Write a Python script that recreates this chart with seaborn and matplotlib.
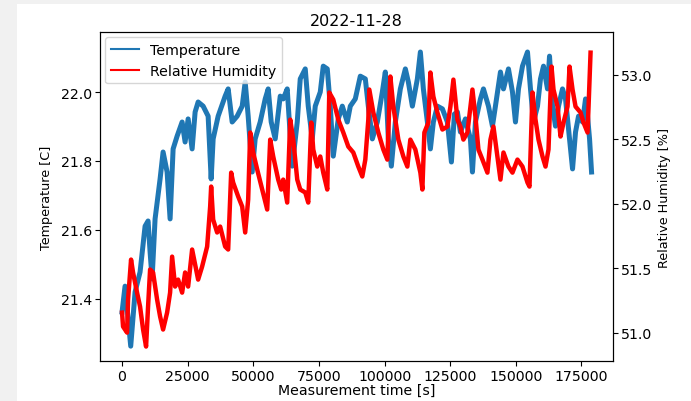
import matplotlib
matplotlib.use("Agg")
import matplotlib.pyplot as plt
from matplotlib.lines import Line2D
from matplotlib.patches import Rectangle
import seaborn as sns
import pandas as pd

title = "2022-11-28"
x_label = "Measurement time [s]"
temp_label = "Temperature [C]"
hum_label = "Relative Humidity [%]"
x_ticks = [0, 25000, 50000, 75000, 100000, 125000, 150000, 175000]
temp_ticks = [21.4, 21.6, 21.8, 22.0]
hum_ticks = [51.0, 51.5, 52.0, 52.5, 53.0]

temp_time = [0, 1140, 3300, 4960, 6860, 8770, 9910, 10680, 11440, 12580, 14490, 15630, 17160, 18300,
             19450, 20970, 22880, 24020, 25170, 26690, 27830, 28980, 30890, 32790, 33940, 34700,
             36600, 39270, 40420, 41940, 43850, 45760, 46900, 48040, 49570, 50710, 52620, 54530,
             55670, 56810, 58340, 60250, 61390, 62910, 64820, 66730, 67870, 69780, 70920, 72450,
             73590, 75500, 76640, 78170, 79310, 80450, 82360, 83890, 85790, 86940, 88840, 90750,
             92660, 93800, 95330, 97230, 99140, 100280, 101430, 102570, 104100, 106000, 107910,
             109050, 110580, 112480, 113630, 114770, 116300, 117440, 118580, 120110, 122020,
             123920, 125450, 126590, 127740, 128880, 130790, 132690, 133460, 134600, 136510,
             137650, 139560, 141080, 142220, 144130, 145280, 147180, 148710, 149850, 151000,
             152520, 154430, 155570, 156720, 158240, 159380, 160530, 162050, 162820, 163960,
             165100, 166250, 167770, 168910, 170060, 171590, 172730, 173870, 175400, 176540,
             177300, 178070, 178830]
temp_vals = [21.362, 21.437, 21.263, 21.42, 21.478, 21.611, 21.626, 21.536, 21.458, 21.632, 21.748,
             21.826, 21.768, 21.632, 21.835, 21.872, 21.913, 21.855, 21.922, 21.835, 21.942, 21.971,
             21.959, 21.93, 21.748, 21.864, 21.93, 21.988, 22.009, 21.913, 21.93, 21.959, 22.029,
             21.93, 21.768, 21.864, 21.913, 21.98, 22.009, 21.913, 21.864, 21.988, 21.98, 22.009,
             21.785, 21.913, 22.038, 22.067, 21.959, 21.864, 21.959, 22.0, 22.075, 22.067, 21.959,
             21.814, 21.922, 21.959, 21.913, 21.959, 21.98, 22.046, 22.038, 21.959, 21.864, 21.913,
             22.0, 22.058, 21.864, 21.785, 21.913, 22.009, 22.067, 22.029, 21.959, 22.038, 22.116,
             22.009, 21.913, 21.835, 21.913, 21.959, 21.951, 21.913, 21.797, 21.936, 21.942,
             21.884, 21.922, 21.864, 21.768, 21.913, 21.98, 22.009, 21.959, 21.901, 21.959, 22.058,
             22.009, 22.067, 22.0, 21.913, 22.009, 22.075, 22.116, 22.009, 21.913, 21.959, 22.038,
             22.075, 22.009, 22.104, 21.959, 21.901, 21.959, 22.009, 21.98, 21.893, 21.777, 21.884,
             21.93, 21.913, 21.98, 21.93, 21.864, 21.768]

hum_time = [0, 380, 1910, 2290, 3430, 4190, 5720, 6860, 8010, 9150, 9910, 10680, 11820, 13350,
            14490, 15630, 17160, 18300, 19070, 20210, 21350, 22880, 24020, 25170, 26690, 27830,
            28980, 30500, 32410, 33560, 33940, 34700, 36220, 37370, 39270, 40420, 41560, 42320,
            44230, 45760, 46900, 48040, 48810, 49950, 51480, 53380, 55290, 56430, 57580, 59480,
            60630, 61390, 62910, 64060, 65200, 66730, 67870, 69780, 70920, 72070, 72830, 74350,
            75500, 76640, 78170, 78930, 80450, 82360, 84270, 86170, 88080, 89990, 91510, 92660,
            93800, 94180, 95710, 97610, 99520, 101040, 102190, 103330, 105240, 107150, 108670,
            109810, 111720, 113630, 114390, 115150, 116680, 117440, 118580, 120110, 122020,
            123920, 125070, 126210, 127740, 128880, 130020, 131550, 133460, 134600, 135740,
            137270, 139170, 140320, 141460, 142990, 144130, 145280, 147180, 148710, 150610,
            152520, 154430, 155190, 156330, 157480, 158620, 160150, 161290, 162430, 163580,
            164340, 165870, 167010, 168150, 169680, 170440, 171590, 172730, 174640, 175780,
            177300, 177690, 178450]
hum_vals = [51.155, 51.047, 51.0, 51.256, 51.566, 51.466, 51.31, 51.202, 51.024, 50.892, 51.202,
            51.489, 51.466, 51.256, 51.125, 51.024, 51.155, 51.31, 51.589, 51.357, 51.411, 51.31,
            51.466, 51.357, 51.644, 51.528, 51.411, 51.512, 51.667, 51.977, 52.132, 51.876,
            51.776, 51.822, 51.667, 51.644, 52.24, 52.163, 52.055, 51.977, 51.776, 52.031,
            52.551, 52.396, 52.264, 52.109, 51.954, 52.496, 52.365, 52.186, 52.109, 52.186,
            52.008, 52.651, 52.496, 52.186, 52.109, 52.086, 52.008, 52.628, 52.419, 52.287,
            52.365, 52.24, 52.109, 52.861, 52.806, 52.651, 52.551, 52.442, 52.396, 52.287, 52.21,
            52.341, 52.651, 52.884, 52.706, 52.551, 52.419, 52.341, 52.985, 52.752, 52.496,
            52.365, 52.287, 52.496, 52.419, 52.24, 52.109, 52.551, 52.628, 53.016, 52.83, 52.706,
            52.574, 52.597, 52.752, 52.961, 52.651, 52.597, 52.496, 52.551, 52.884, 52.674,
            52.419, 52.341, 52.24, 52.496, 52.597, 52.365, 52.186, 52.396, 52.287, 52.24, 52.341,
            52.287, 52.163, 52.132, 52.861, 52.651, 52.496, 52.365, 52.287, 52.419, 53.062,
            52.884, 52.752, 52.52, 52.628, 52.752, 53.062, 52.884, 52.752, 52.706, 52.628,
            52.551, 52.752, 53.17]

temp_df = pd.DataFrame({"time": temp_time, "temp": temp_vals})
hum_df = pd.DataFrame({"time": hum_time, "hum": hum_vals})

blue = "#1f77b4"
red = "#ff0000"

fig = plt.figure(figsize=(6.91, 4.02), dpi=100)
fig.patch.set_facecolor("white")
fig.patches.append(Rectangle((0, 0), 17 / 691, 1, transform=fig.transFigure,
                             facecolor="#f1f1f1", edgecolor="none", zorder=-1))
fig.patches.append(Rectangle((0, 1 - 5 / 402), 1, 5 / 402, transform=fig.transFigure,
                             facecolor="#f1f1f1", edgecolor="none", zorder=-1))

ax = fig.add_axes([100 / 691, 1 - 362 / 402, 513 / 691, 329 / 402])
ax2 = ax.twinx()

sns.lineplot(data=temp_df, x="time", y="temp", ax=ax, color=blue, lw=3.6,
             errorbar=None, legend=False)
sns.lineplot(data=hum_df, x="time", y="hum", ax=ax2, color=red, lw=3.2,
             errorbar=None, legend=False)

ax.set_xlim(-8400, 187000)
ax.set_ylim(21.22, 22.174)
ax2.set_ylim(50.78, 53.33)
ax.set_xticks(x_ticks)
ax.set_xticklabels([str(v) for v in x_ticks])
ax.set_yticks(temp_ticks)
ax.set_yticklabels([f"{v:.1f}" for v in temp_ticks])
ax2.set_yticks(hum_ticks)
ax2.set_yticklabels([f"{v:.1f}" for v in hum_ticks])

fs = 10.2
ax.tick_params(labelsize=fs, pad=2)
ax2.tick_params(labelsize=fs, pad=2)
ax.set_xlabel(x_label, fontsize=fs, labelpad=0)
ax.set_ylabel(temp_label, fontsize=fs - 1, labelpad=6)
ax2.set_ylabel(hum_label, fontsize=fs - 1, labelpad=4)
ax.set_title(title, fontsize=fs + 1.3, pad=5)

handles = [Line2D([0], [0], color=blue, lw=1.5), Line2D([0], [0], color=red, lw=1.5)]
ax.legend(handles, ["Temperature", "Relative Humidity"], loc="upper left", fontsize=fs,
          borderaxespad=0.35)

fig.savefig("out.png", dpi=100)
